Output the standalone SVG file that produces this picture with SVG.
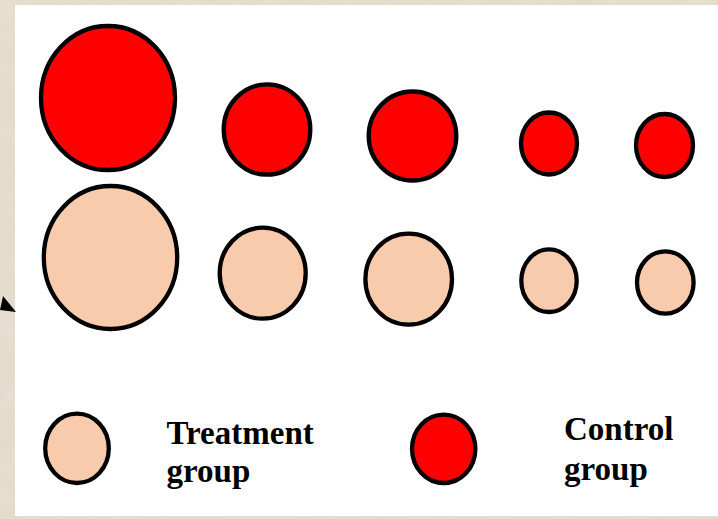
<svg xmlns="http://www.w3.org/2000/svg" width="718" height="519" viewBox="0 0 718 519">
  <defs>
    <filter id="tex" x="0" y="0" width="100%" height="100%">
      <feTurbulence type="fractalNoise" baseFrequency="0.035" numOctaves="4" seed="4" result="n"/>
      <feColorMatrix in="n" type="matrix" values="0 0 0 0 0.74  0 0 0 0 0.68  0 0 0 0 0.56  0 0 0 1.6 -0.45"/>
    </filter>
  </defs>
  <style>
    .ctrl { fill: #FF0000; stroke: #000; stroke-width: 4.3; }
    .treat { fill: #F8CBAD; stroke: #000; stroke-width: 4.3; }
    .lbl { font-family: "Liberation Serif", "Times New Roman", serif; font-weight: bold; font-size: 33px; fill: #000; }
  </style>
  <rect x="0" y="0" width="718" height="519" fill="#e6ded0"/>
  <rect x="0" y="0" width="718" height="519" filter="url(#tex)" opacity="0.75"/>
  <rect x="15" y="5" width="703" height="511" fill="#ffffff"/>
  <polygon points="3,296 16,312 0,310" fill="#000"/>

  <g id="control-1"><ellipse class="ctrl" cx="108" cy="98" rx="67" ry="72"/></g>
  <g id="control-2"><ellipse class="ctrl" cx="267" cy="129.5" rx="43.3" ry="45.2"/></g>
  <g id="control-3"><ellipse class="ctrl" cx="412.5" cy="136" rx="43.8" ry="44.5"/></g>
  <g id="control-4"><ellipse class="ctrl" cx="549" cy="143.5" rx="28" ry="31"/></g>
  <g id="control-5"><ellipse class="ctrl" cx="664.5" cy="145.5" rx="28.5" ry="31.5"/></g>

  <g id="treatment-1"><ellipse class="treat" cx="110.5" cy="257.5" rx="66.7" ry="71.5"/></g>
  <g id="treatment-2"><ellipse class="treat" cx="262.7" cy="273.2" rx="43" ry="45.5"/></g>
  <g id="treatment-3"><ellipse class="treat" cx="408.7" cy="279.2" rx="43.3" ry="45.5"/></g>
  <g id="treatment-4"><ellipse class="treat" cx="549" cy="280.7" rx="27.7" ry="31.3"/></g>
  <g id="treatment-5"><ellipse class="treat" cx="665.3" cy="282.5" rx="28.3" ry="31.2"/></g>

  <g id="legend-treatment">
    <ellipse class="treat" cx="77" cy="448.3" rx="31.8" ry="34.7"/>
    <text class="lbl" x="166.5" y="444">Treatment</text>
    <text class="lbl" x="166.5" y="481.5">group</text>
  </g>
  <g id="legend-control">
    <ellipse class="ctrl" cx="443.7" cy="448.8" rx="31.7" ry="34.2"/>
    <text class="lbl" x="564" y="440">Control</text>
    <text class="lbl" x="564" y="480">group</text>
  </g>
  <g id="connectors"></g>
</svg>
